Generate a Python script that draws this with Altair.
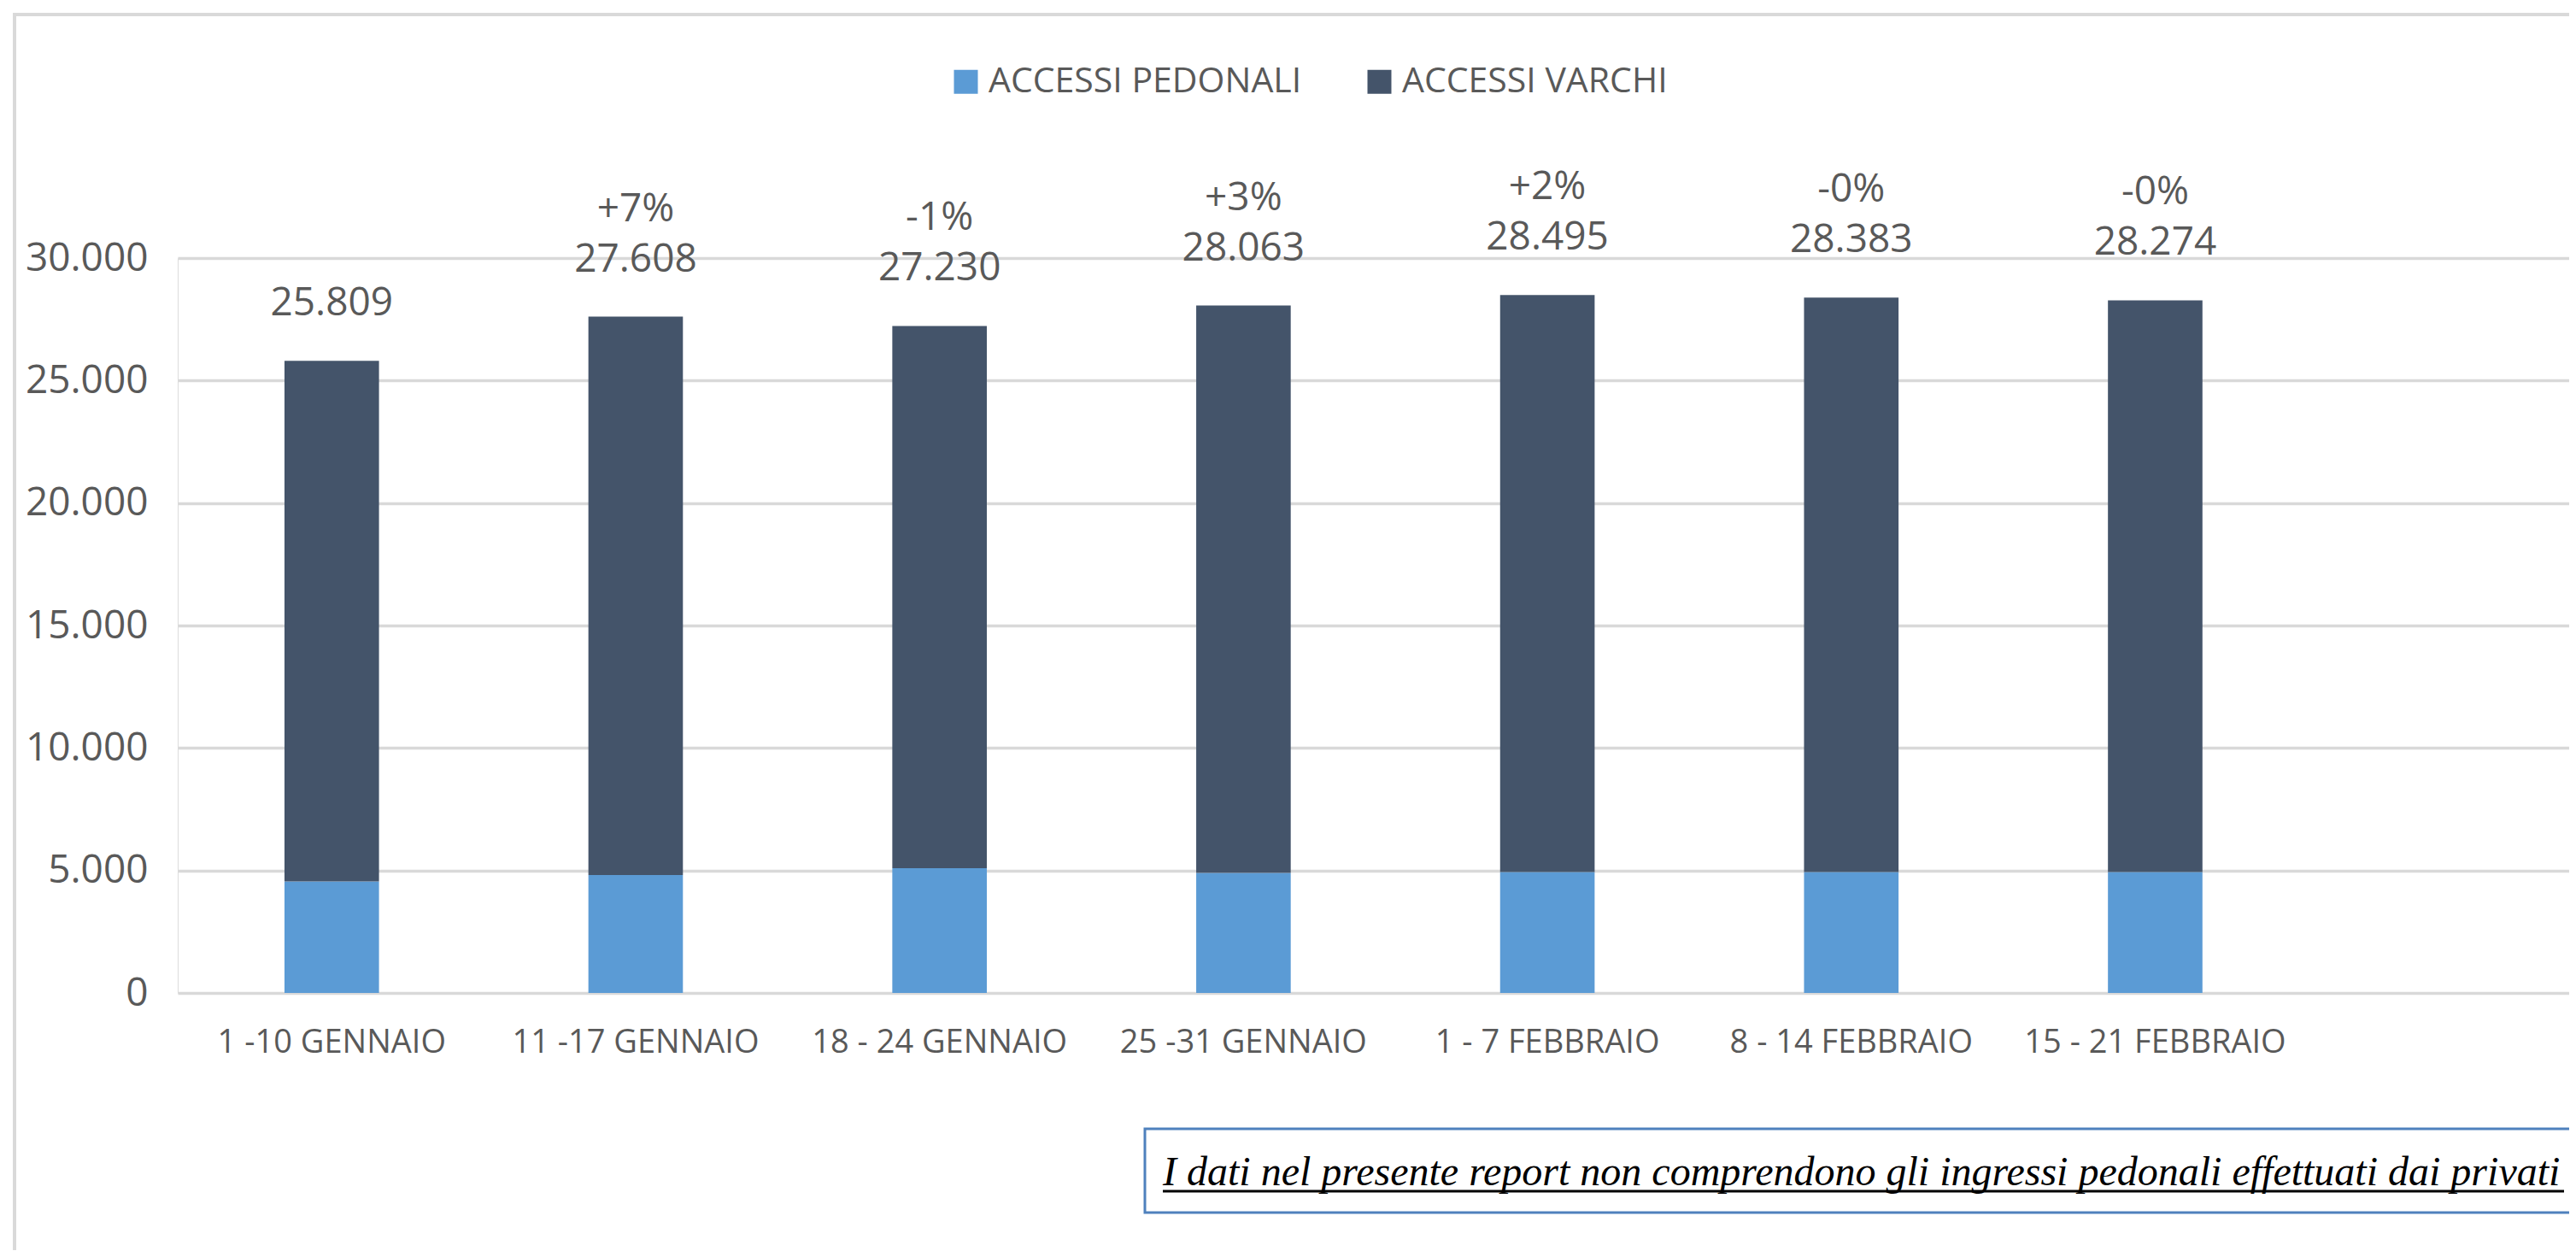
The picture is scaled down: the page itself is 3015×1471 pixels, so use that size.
import altair as alt
import pandas as pd

# ---- data ----
categories = ["1 -10 GENNAIO", "11 -17 GENNAIO", "18 - 24 GENNAIO", "25 -31 GENNAIO",
              "1 - 7 FEBBRAIO", "8 - 14 FEBBRAIO", "15 - 21 FEBBRAIO"]
pedonali = [4550, 4810, 5090, 4900, 4940, 4940, 4940]
varchi = [21259, 22798, 22140, 23163, 23555, 23443, 23334]
totals = [25809, 27608, 27230, 28063, 28495, 28383, 28274]
total_labels = ["25.809", "27.608", "27.230", "28.063", "28.495", "28.383", "28.274"]
pct_labels = ["", "+7%", "-1%", "+3%", "+2%", "-0%", "-0%"]
series = ["ACCESSI PEDONALI", "ACCESSI VARCHI"]
colors = ["#5b9bd5", "#44546a"]
y_ticks = [0, 5000, 10000, 15000, 20000, 25000, 30000]
note = "I dati nel presente report non comprendono gli ingressi pedonali effettuati dai privati"

rows = []
for c, p, v in zip(categories, pedonali, varchi):
    rows.append({"cat": c, "series": series[0], "value": p, "ord": 0})
    rows.append({"cat": c, "series": series[1], "value": v, "ord": 1})
long_df = pd.DataFrame(rows)
tot_df = pd.DataFrame({"cat": categories, "total": totals, "lab": total_labels, "pct": pct_labels})
one = pd.DataFrame({"k": [0]})

TXT = "#595959"
FONT = "Open Sans"
W, H = 2799, 860

xscale = alt.Scale(domain=categories, paddingInner=0.689, paddingOuter=0.779, align=0.2255)
yscale = alt.Scale(domain=[0, 30000], nice=False, zero=True)

bars = alt.Chart(long_df).mark_bar().encode(
    x=alt.X("cat:N", sort=categories, scale=xscale, title=None,
            axis=alt.Axis(labelAngle=0, labelFont=FONT, labelFontSize=38, labelColor=TXT,
                          ticks=False, tickSize=0, domain=False, grid=False, labelPadding=39,
                          labelLimit=0)),
    y=alt.Y("value:Q", stack="zero", scale=yscale, title=None,
            axis=alt.Axis(values=y_ticks, labelFont=FONT, labelFontSize=46, labelColor=TXT,
                          ticks=False, tickSize=0, domain=False, labelPadding=35,
                          gridColor="#d9d9d9", gridWidth=3.5,
                          labelExpr="replace(format(datum.value, ','), ',', '.')")),
    color=alt.Color("series:N", scale=alt.Scale(domain=series, range=colors),
                    legend=alt.Legend(orient="none", legendX=902, legendY=-227,
                                      direction="horizontal", title=None,
                                      symbolType="square", symbolSize=784,
                                      symbolStrokeWidth=0, labelFont=FONT,
                                      labelFontSize=41, labelColor=TXT, labelLimit=0,
                                      labelOffset=6, columnPadding=70)),
    order=alt.Order("ord:Q"),
)

num_text = alt.Chart(tot_df).mark_text(font=FONT, fontSize=46, color=TXT, baseline="middle",
                                       dy=-67).encode(
    x=alt.X("cat:N", sort=categories), y=alt.Y("total:Q"), text="lab:N")

pct_text = alt.Chart(tot_df).mark_text(font=FONT, fontSize=46, color=TXT, baseline="middle",
                                       dy=-126).encode(
    x=alt.X("cat:N", sort=categories), y=alt.Y("total:Q"), text="pct:N")

border_left = alt.Chart(one).mark_rule(color="#d9d9d9", strokeWidth=4).encode(
    x=alt.value(-191), y=alt.value(-287), y2=alt.value(1161))
border_top = alt.Chart(one).mark_rule(color="#d9d9d9", strokeWidth=4).encode(
    x=alt.value(-193), x2=alt.value(2805), y=alt.value(-285))

note_box = alt.Chart(one).mark_rect(fill="white", stroke="#4f81bd", strokeWidth=3).encode(
    x=alt.value(1132), x2=alt.value(2860), y=alt.value(1019), y2=alt.value(1117))
note_text = alt.Chart(one).mark_text(font="Liberation Serif", fontStyle="italic", fontSize=48,
                                     color="black", align="left", baseline="alphabetic").encode(
    x=alt.value(1153), y=alt.value(1085), text=alt.value(note))
note_line = alt.Chart(one).mark_rule(color="black", strokeWidth=3).encode(
    x=alt.value(1153), x2=alt.value(2793), y=alt.value(1092))

chart = alt.layer(bars, num_text, pct_text, border_left, border_top,
                  note_box, note_text, note_line).properties(
    width=W, height=H,
    autosize=alt.AutoSizeParams(type="none"),
    padding={"left": 200, "top": 294, "right": 0, "bottom": 301},
).configure_view(stroke=None).configure(background="white")

chart.save("out.html", embed_options={"renderer": "svg", "actions": False})
